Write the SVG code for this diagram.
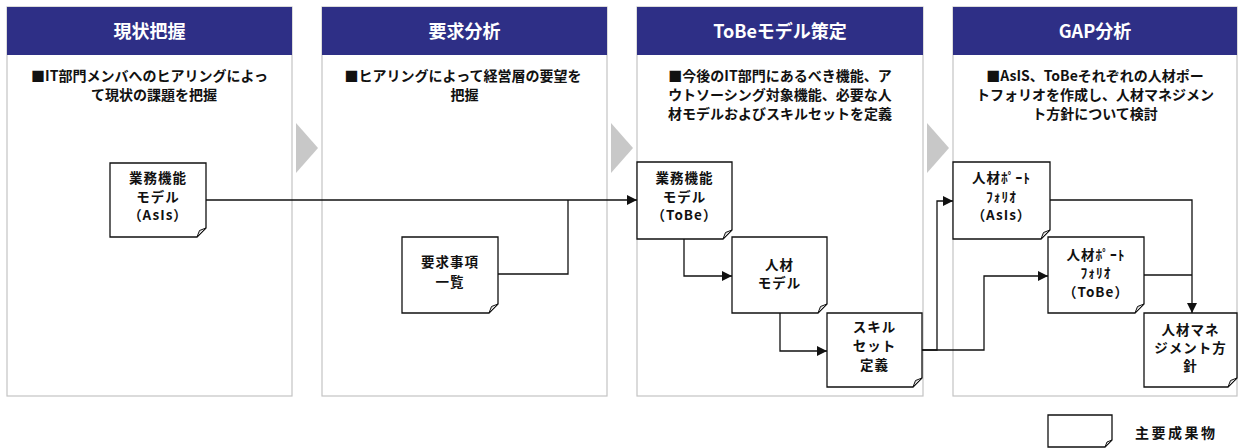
<svg xmlns="http://www.w3.org/2000/svg" width="1243" height="448" viewBox="0 0 1243 448">
<defs>
<style>
.panel{fill:#fff;stroke:#c4c4c4;stroke-width:1.2}
.hdr{fill:#2e2f86}
.htxt{font-family:"Noto Sans CJK JP","Liberation Sans",sans-serif;font-weight:bold;font-size:18px;fill:#fff;text-anchor:middle}
.desc{font-family:"Noto Sans CJK JP","Liberation Sans",sans-serif;font-weight:bold;font-size:14px;fill:#111;text-anchor:middle}
.chev{fill:#c8c8c8}
.doc{fill:#fff;stroke:#111;stroke-width:1.3}
.fold{fill:#ddd;stroke:#111;stroke-width:1}
.ntxt{font-family:"Noto Sans CJK JP","Liberation Sans",sans-serif;font-weight:bold;font-size:13.5px;fill:#111;text-anchor:middle;letter-spacing:1px}
.conn{fill:none;stroke:#111;stroke-width:1.3}
.leg{font-family:"Noto Sans CJK JP","Liberation Sans",sans-serif;font-weight:bold;font-size:14px;fill:#111;letter-spacing:2.5px}
</style>
<marker id="arr" markerUnits="userSpaceOnUse" markerWidth="12" markerHeight="10" refX="10" refY="5" orient="auto">
<path d="M0,0 L10,5 L0,10 Z" fill="#111"/>
</marker>
</defs>

<g id="phase1">
<rect class="panel" x="7" y="7" width="285" height="389"/>
<rect class="hdr" x="7" y="7" width="285" height="48"/>
<text class="htxt" x="149.5" y="38">現状把握</text>
<text class="desc" x="149.5" y="81">■IT部門メンバへのヒアリングによっ</text>
<text class="desc" x="154" y="100">て現状の課題を把握</text>
</g>
<g id="phase2">
<rect class="panel" x="322" y="7" width="285" height="389"/>
<rect class="hdr" x="322" y="7" width="285" height="48"/>
<text class="htxt" x="464.5" y="38">要求分析</text>
<text class="desc" x="463" y="81">■ヒアリングによって経営層の要望を</text>
<text class="desc" x="464.5" y="100">把握</text>
</g>
<g id="phase3">
<rect class="panel" x="637" y="7" width="286" height="389"/>
<rect class="hdr" x="637" y="7" width="286" height="48"/>
<text class="htxt" x="780" y="38">ToBeモデル策定</text>
<text class="desc" x="780" y="81">■今後のIT部門にあるべき機能、ア</text>
<text class="desc" x="780" y="100">ウトソーシング対象機能、必要な人</text>
<text class="desc" x="780" y="119">材モデルおよびスキルセットを定義</text>
</g>
<g id="phase4">
<rect class="panel" x="953" y="7" width="284" height="389"/>
<rect class="hdr" x="953" y="7" width="284" height="48"/>
<text class="htxt" x="1095" y="38">GAP分析</text>
<text class="desc" x="1095" y="81">■AsIS、ToBeそれぞれの人材ポー</text>
<text class="desc" x="1095" y="100">トフォリオを作成し、人材マネジメン</text>
<text class="desc" x="1095" y="119">ト方針について検討</text>
</g>

<g id="chevrons">
<polygon class="chev" points="296,123 318,148 296,173"/>
<polygon class="chev" points="611,123 633,148 611,173"/>
<polygon class="chev" points="927,123 949,148 927,173"/>
</g>

<g id="connectors">
<path class="conn" d="M206,200 H637" marker-end="url(#arr)"/>
<path class="conn" d="M498,274 H568 V200"/>
<path class="conn" d="M684,239 V276 H732" marker-end="url(#arr)"/>
<path class="conn" d="M780,313 V351 H827" marker-end="url(#arr)"/>
<path class="conn" d="M922,350 H937 V201 H953" marker-end="url(#arr)"/>
<path class="conn" d="M922,350 H984 V276 H1048" marker-end="url(#arr)"/>
<path class="conn" d="M1050,200 H1192 V313" marker-end="url(#arr)"/>
<path class="conn" d="M1144,275 H1192"/>
</g>

<g id="n-asis-model">
<path class="doc" d="M110,163 H206 V228 L197,237 H110 Z"/>
<path class="fold" d="M206,228 L197,237 L199.5,230.5 Z"/>
<text class="ntxt" x="158" y="183">業務機能</text>
<text class="ntxt" x="158" y="202">モデル</text>
<text class="ntxt" x="158" y="220">（AsIs）</text>
</g>
<g id="n-requirements">
<path class="doc" d="M402,237 H498 V304 L489,313 H402 Z"/>
<path class="fold" d="M498,304 L489,313 L491.5,306.5 Z"/>
<text class="ntxt" x="450" y="267">要求事項</text>
<text class="ntxt" x="450" y="287">一覧</text>
</g>
<g id="n-tobe-model">
<path class="doc" d="M637,162 H732 V230 L723,239 H637 Z"/>
<path class="fold" d="M732,230 L723,239 L725.5,232.5 Z"/>
<text class="ntxt" x="684.5" y="183">業務機能</text>
<text class="ntxt" x="684.5" y="202">モデル</text>
<text class="ntxt" x="684.5" y="220">（ToBe）</text>
</g>
<g id="n-hr-model">
<path class="doc" d="M732,237 H827 V304 L818,313 H732 Z"/>
<path class="fold" d="M827,304 L818,313 L820.5,306.5 Z"/>
<text class="ntxt" x="779.5" y="270">人材</text>
<text class="ntxt" x="779.5" y="288">モデル</text>
</g>
<g id="n-skillset">
<path class="doc" d="M827,313 H922 V378 L913,387 H827 Z"/>
<path class="fold" d="M922,378 L913,387 L915.5,380.5 Z"/>
<text class="ntxt" x="874.5" y="332">スキル</text>
<text class="ntxt" x="874.5" y="351">セット</text>
<text class="ntxt" x="874.5" y="370">定義</text>
</g>
<g id="n-portfolio-asis">
<path class="doc" d="M953,162 H1050 V230 L1041,239 H953 Z"/>
<path class="fold" d="M1050,230 L1041,239 L1043.5,232.5 Z"/>
<text class="ntxt" x="1001.5" y="183">人材ﾎﾟｰﾄ</text>
<text class="ntxt" x="1001.5" y="202">ﾌｫﾘｵ</text>
<text class="ntxt" x="1001.5" y="220">（AsIs）</text>
</g>
<g id="n-portfolio-tobe">
<path class="doc" d="M1048,237 H1144 V304 L1135,313 H1048 Z"/>
<path class="fold" d="M1144,304 L1135,313 L1137.5,306.5 Z"/>
<text class="ntxt" x="1096" y="260">人材ﾎﾟｰﾄ</text>
<text class="ntxt" x="1096" y="278">ﾌｫﾘｵ</text>
<text class="ntxt" x="1096" y="297">（ToBe）</text>
</g>
<g id="n-hr-policy">
<path class="doc" d="M1144,313 H1237 V378 L1228,387 H1144 Z"/>
<path class="fold" d="M1237,378 L1228,387 L1230.5,380.5 Z"/>
<text class="ntxt" x="1190.5" y="335">人材マネ</text>
<text class="ntxt" x="1190.5" y="353">ジメント方</text>
<text class="ntxt" x="1190.5" y="371">針</text>
</g>

<g id="legend">
<path class="doc" d="M1048,415 H1112 V440 L1105,447 H1048 Z"/>
<path class="fold" d="M1112,440 L1105,447 L1107,442 Z"/>
<text class="leg" x="1135" y="438">主要成果物</text>
</g>
</svg>
